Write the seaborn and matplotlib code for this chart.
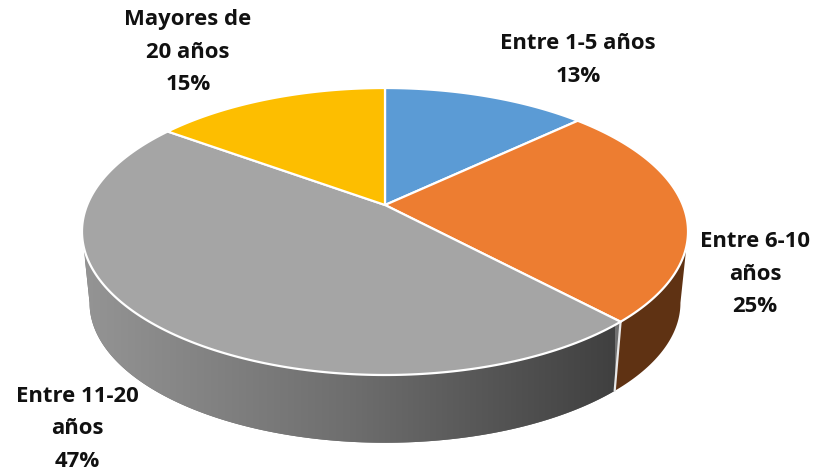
import numpy as np
import matplotlib
matplotlib.use("Agg")
import matplotlib.pyplot as plt
import seaborn as sns

categories = ["Entre 1-5 años", "Entre 6-10\naños", "Entre 11-20\naños", "Mayores de\n20 años"]
percent = [13, 25, 47, 15]
top_colors = ["#5B9BD5", "#ED7D31", "#A5A5A5", "#FDBE00"]

sns.set_theme(style="white")
plt.rcParams["font.family"] = ["Open Sans", "DejaVu Sans"]

W, H = 815, 474
fig = plt.figure(figsize=(W / 100, H / 100), dpi=100)
ax = fig.add_axes([0, 0, 1, 1])
ax.set_xlim(0, W)
ax.set_ylim(H, 0)
ax.axis("off")

# tilted disc: circle seen in perspective, apex is not the ellipse centre
cx, cy = 385, 205
A, B, k = 297.8, 138.6, 0.1847
shrink, drop = 0.975, 72


def rim(theta):
    x, y = np.sin(theta), np.cos(theta)
    w = 1 + k * y
    return cx + A * x / w, cy - B * y / w


def rim_low(theta):
    x, y = rim(theta)
    return cx + shrink * (x - cx), cy + shrink * (y - cy) + drop


def side_poly(t0, t1):
    t = np.linspace(t0, t1, 150)
    x1, y1 = rim(t)
    x2, y2 = rim_low(t)
    return np.r_[x1, x2[::-1]], np.r_[y1, y2[::-1]]


fracs = np.array(percent) / sum(percent)
edges = np.r_[0, np.cumsum(fracs)] * 2 * np.pi
t_right = np.arccos(-k)
t_left = 2 * np.pi - t_right

# orange side, flat dark brown
sx, sy = side_poly(t_right, edges[2])
ax.fill(sx, sy, color="#5F3213", lw=0, zorder=1)

# gray side with a left to right gradient
sx, sy = side_poly(edges[2], t_left)
poly = ax.fill(sx, sy, color="#707070", lw=0, zorder=1)[0]
side_cmap = sns.blend_palette(["#949494", "#6E6E6E", "#404040"], as_cmap=True)
grad = np.linspace(0, 1, 256).reshape(1, -1)
im = ax.imshow(grad, extent=[85, 615, 460, 240], cmap=side_cmap, aspect="auto", zorder=1.5)
im.set_clip_path(poly)
ax.set_xlim(0, W)
ax.set_ylim(H, 0)

# white seam on the front edge
x1, y1 = rim(np.full(2, edges[2]))
x2, y2 = rim_low(np.full(2, edges[2]))
ax.plot([x1[0], x2[0]], [y1[0], y2[0]], color="#E8E8E8", lw=1.6, zorder=2)

for i, c in enumerate(top_colors):
    t = np.linspace(edges[i], edges[i + 1], 200)
    x, y = rim(t)
    ax.fill(np.r_[cx, x], np.r_[cy, y], facecolor=c, edgecolor="white", lw=1.6, zorder=3,
            joinstyle="round")

label_pos = [(578, 60), (755, 274), (77, 429), (188, 52)]
for name, p, (lx, ly) in zip(categories, percent, label_pos):
    ax.text(lx, ly, f"{name}\n{p}%", ha="center", va="center", fontsize=15.9,
            fontweight="bold", color="#111111", linespacing=1.7, zorder=5)

fig.savefig("out.png", dpi=100)
